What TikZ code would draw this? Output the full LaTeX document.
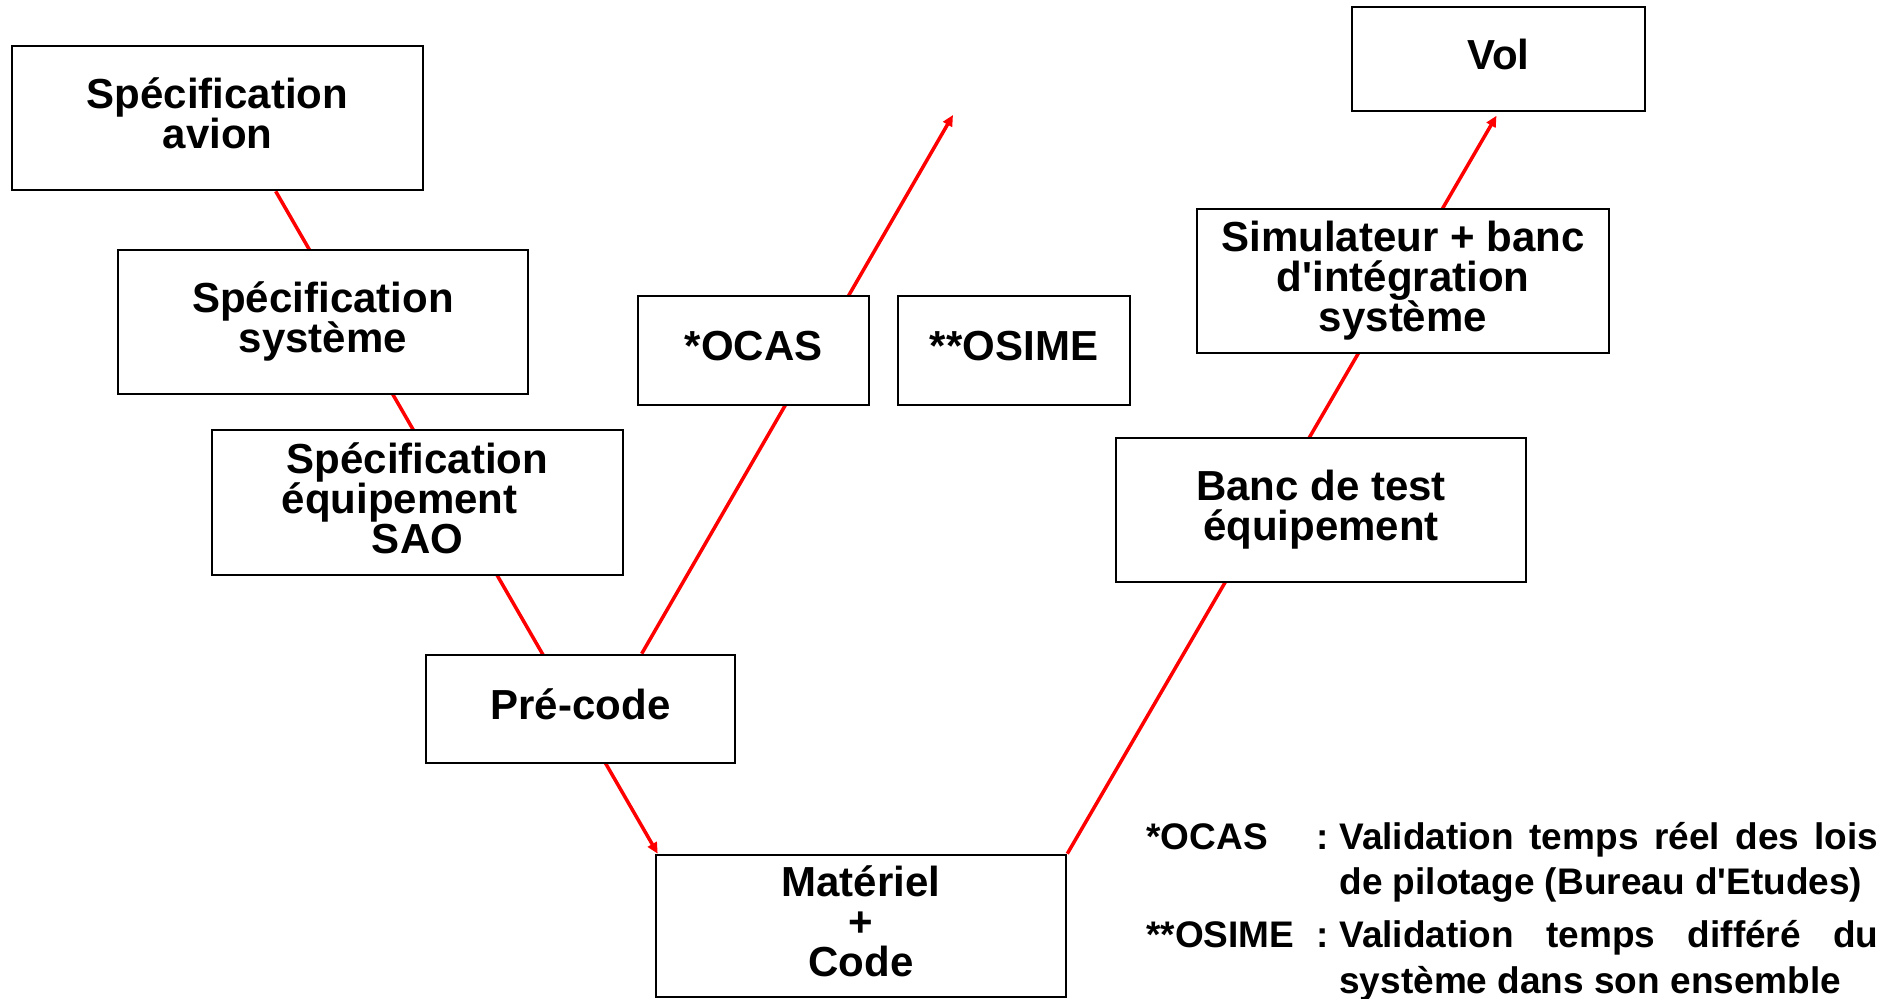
\documentclass[tikz,border=0pt]{standalone}
\usepackage{fontspec}
\setmainfont{Liberation Sans}
\usetikzlibrary{arrows.meta,backgrounds,calc}
\newcommand{\myapos}{\textquotesingle}
\begin{document}
\begin{tikzpicture}[x=0.5pt,y=-0.5pt,
  stage/.style={draw=black, line width=1.3pt, fill=white, align=center, inner sep=0pt,
    text depth=4.5pt, font=\fontsize{21}{20}\selectfont\bfseries},
  flow/.style={draw=red, line width=1.75pt},
  flowarrow/.style={flow, -{Triangle[length=5.5pt,width=5pt]}},
  legend/.style={anchor=base west, inner sep=0pt, font=\fontsize{18.5}{22}\selectfont\bfseries}]
\useasboundingbox (0,0) rectangle (1885,999);

% descending branch
\node[stage, minimum width=205.5pt, minimum height=72pt] (A) at (217.5,118) {Spécification\\avion};
\node[stage, minimum width=205pt, minimum height=72pt] (B) at (323,322) {Spécification\\système};
\node[stage, minimum width=205.5pt, minimum height=72.5pt] (C) at (417.5,502.5)
  {Spécification\\équipement\hspace*{18pt}\mbox{}\\SAO};
\node[stage, minimum width=154.5pt, minimum height=54pt] (D) at (580.5,709) {Pré-code};
\node[stage, minimum width=205pt, minimum height=71pt] (E) at (861,926) {Matériel\\+\\Code};

% validation tools
\node[stage, minimum width=115.5pt, minimum height=54.5pt] (F) at (753.5,350.5) {*OCAS};
\node[stage, minimum width=116pt, minimum height=54.5pt] (G) at (1014,350.5) {**OSIME};

% ascending branch
\node[stage, minimum width=205pt, minimum height=72pt] (H) at (1321,510) {Banc de test\\équipement};
\node[stage, minimum width=206pt, minimum height=72pt] (I) at (1403,281)
  {Simulateur + banc\\d\myapos intégration\\système};
\node[stage, minimum width=146.5pt, minimum height=52pt] (J) at (1498.5,59) {Vol};

% red flow lines, behind the boxes
\coordinate (ocasend) at (953,115);
\begin{scope}[on background layer]
  \draw[flowarrow] ($(A.south west)+(265,0)$) -- ($(E.north west)+(3,0)$);
  \draw[flowarrow] ($(D.north west)+(217,0)$) -- (ocasend);
  \draw[flowarrow, shorten >=2pt] (E.north east) -- (J.south);
\end{scope}

% legend
\node[legend] (k1) at (1146,849) {*OCAS};
\node[legend] (c1) at (1316,849) {:};
\node[legend] (t1a) at (1339,849) {\makebox[269.5pt][s]{Validation temps réel des lois}};
\node[legend] (t1b) at (1339,894) {de pilotage (Bureau d\myapos Etudes)};
\node[legend] (k2) at (1146,947) {**OSIME};
\node[legend] (c2) at (1316,947) {:};
\node[legend] (t2a) at (1339,947) {\makebox[269.5pt][s]{Validation temps différé du}};
\node[legend] (t2b) at (1339,993) {système dans son ensemble};
\end{tikzpicture}
\end{document}
